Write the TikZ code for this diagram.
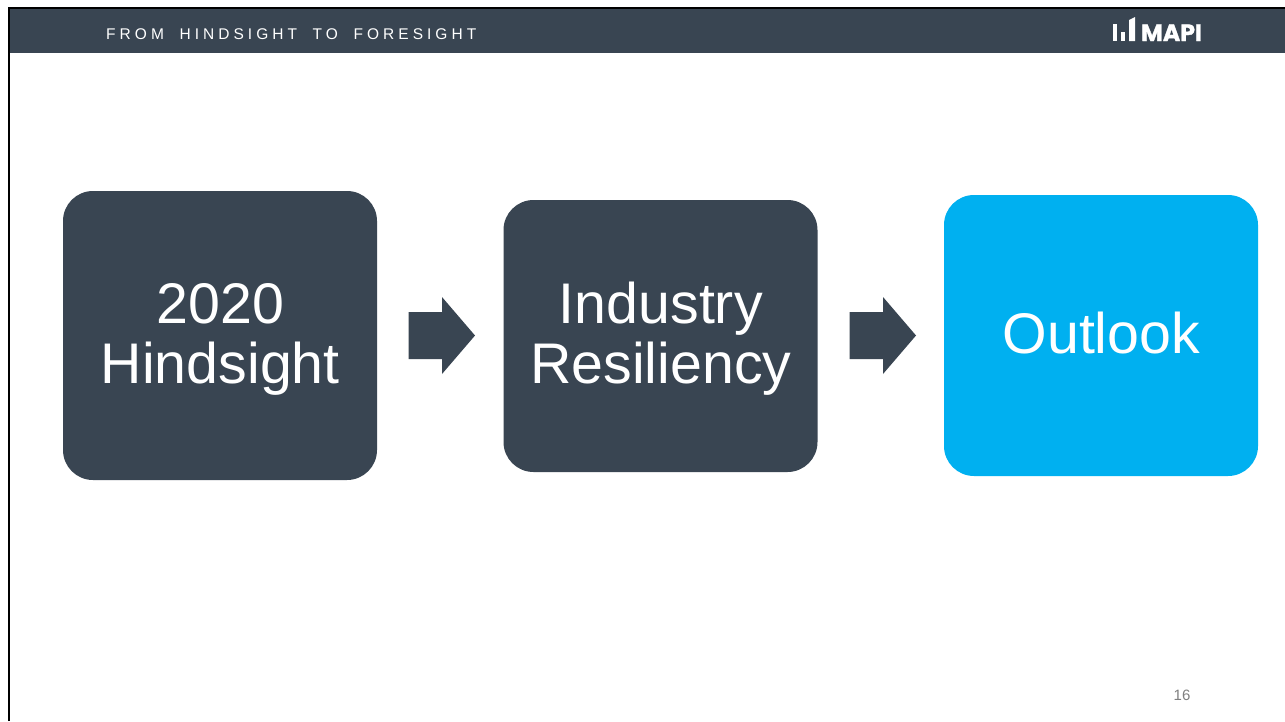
\documentclass[tikz,border=0pt]{standalone}
\usepackage{fontspec}
\setmainfont{Liberation Sans}
\newfontfamily\logofont{Poppins}[BoldFeatures={FakeBold=1.5}]
\newfontfamily\titlefont{Liberation Sans}[LetterSpace=26,WordSpace=1.875]
\definecolor{slate}{HTML}{394552}
\definecolor{sky}{HTML}{00B0F0}
\definecolor{pagenum}{HTML}{7F7F7F}
\tikzset{
  tile/.style={rounded corners=30pt,minimum width=314pt,inner sep=0pt,draw=none},
  tiletext/.style={text=white,align=center,inner sep=0pt,font=\fontsize{57.3}{60}\selectfont},
  blockarrow/.style={fill=slate,draw=none},
  logobar/.style={fill=white,draw=none}
}
\begin{document}
\begin{tikzpicture}[x=1pt,y=-1pt]
\useasboundingbox (0,0) rectangle (1285,721);
\fill[white] (0,0) rectangle (1285,721);
\fill[slate] (9,8) rectangle (1285,53);
\draw[black,line width=2.4pt] (9,721) -- (9,8) -- (1285,8);
\node[anchor=base west,inner sep=0pt,text=white,font=\titlefont\fontsize{15.5}{18}\selectfont] (title) at (106,39.5) {FROM HINDSIGHT TO FORESIGHT};
\fill[logobar] (1113,24) rectangle (1117,41);
\fill[logobar] (1121,32) rectangle (1125,41);
\fill[logobar] (1129,20) -- (1135,17) -- (1135,41) -- (1129,41) -- cycle;
\node[anchor=base west,inner sep=0pt,text=white,font=\fontsize{23.6}{23.6}\selectfont\bfseries] (logo) at (1141,41) {\logofont MAPI};
\node[tile,fill=slate,minimum height=289pt] (hind) at (220,335.5) {};
\node[tile,fill=slate,minimum height=272pt] (ind) at (660.5,336) {};
\node[tile,fill=sky,minimum height=281pt] (out) at (1101,335.5) {};
\node[tiletext] (hindt) at (220.3,339) {2020\\Hindsight};
\node[tiletext] (indt) at (660.8,339) {Industry\\Resiliency};
\node[tiletext] (outt) at (1101.3,333) {Outlook};
\fill[blockarrow] (408.5,312) -- (442,312) -- (442,297) -- (475,335.5) -- (442,374) -- (442,359) -- (408.5,359) -- cycle;
\fill[blockarrow] (849.5,312) -- (883,312) -- (883,297) -- (916,335.5) -- (883,374) -- (883,359) -- (849.5,359) -- cycle;
\node[anchor=base,inner sep=0pt,text=pagenum,font=\fontsize{15}{18}\selectfont] (num) at (1182,700) {16};
\end{tikzpicture}
\end{document}
